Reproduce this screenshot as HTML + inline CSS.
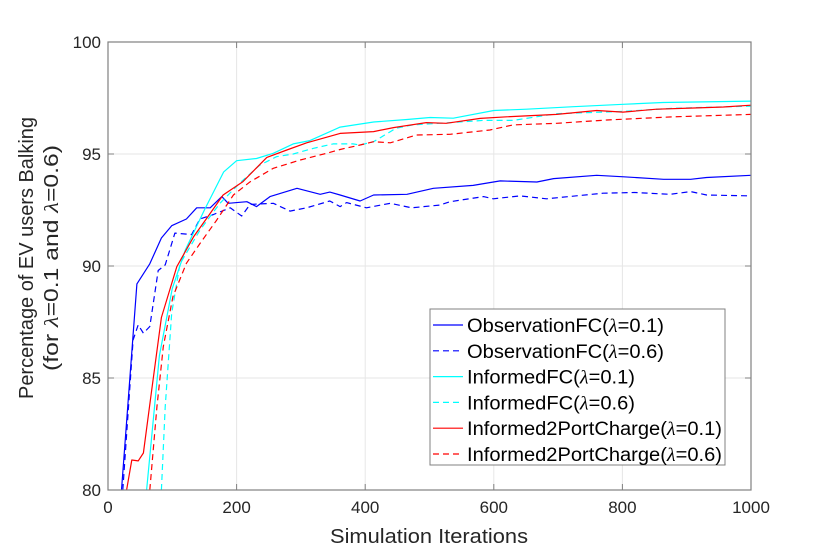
<!DOCTYPE html>
<html><head><meta charset="utf-8"><style>
body{margin:0;background:#fff;}
svg{display:block;font-family:"Liberation Sans",sans-serif;}
</style></head><body>
<svg id="chart" width="830" height="550"></svg>
<script>
const xTicks=[0,200,400,600,800,1000];
const yTicks=[80,85,90,95,100];
const obs01X=[21,45,65,83,99,122,138,159,177,187,216,231,252,294,330,345,361,392,413,465,506,568,610,667,693,760,802,864,906,931,1000];
const obs01Y=[80,89.2,90.1,91.25,91.8,92.1,92.6,92.6,93.1,92.8,92.87,92.65,93.1,93.47,93.2,93.3,93.17,92.9,93.17,93.2,93.47,93.6,93.8,93.75,93.9,94.05,93.98,93.87,93.87,93.95,94.05];
const obs06X=[23,39,47,55,65,78,89,104,130,143,164,190,208,221,257,283,309,345,361,371,402,439,472,516,532,584,599,641,682,770,819,874,906,931,1000];
const obs06Y=[80,86.7,87.37,87.0,87.3,89.8,90.05,91.47,91.4,92.1,92.3,92.6,92.23,92.75,92.8,92.45,92.6,92.9,92.65,92.83,92.6,92.8,92.6,92.72,92.87,93.1,93.0,93.13,93.0,93.25,93.28,93.2,93.32,93.17,93.13];
const inf01X=[60,80,100,120,150,180,200,231,257,288,314,361,413,465,501,537,600,651,724,801,863,1000];
const inf01Y=[80,86,89,90.7,92.5,94.2,94.7,94.8,95.03,95.45,95.6,96.2,96.43,96.54,96.63,96.6,96.94,97.0,97.11,97.22,97.3,97.36];
const inf06X=[83,89,99,112,143,174,205,236,262,288,319,350,381,392,413,448,474,532,584,630,698,801,879,1000];
const inf06Y=[80,83.7,87.9,90.1,91.6,92.8,93.7,94.5,94.88,95.0,95.25,95.45,95.45,95.4,95.55,96.15,96.3,96.4,96.5,96.5,96.8,96.9,97.04,97.14];
const i2p01X=[29,37,47,55,68,83,107,133,159,179,210,247,278,309,361,413,444,495,526,579,620,698,760,801,853,905,957,1000];
const i2p01Y=[80,81.34,81.3,81.65,84.46,87.7,89.97,91.3,92.35,93.17,93.77,94.85,95.18,95.5,95.92,96.0,96.18,96.4,96.37,96.59,96.66,96.77,96.94,96.87,97.0,97.05,97.1,97.18];
const i2p06X=[65,76,86,101,122,143,169,195,221,257,299,340,361,392,413,439,480,532,594,630,698,776,879,1000];
const i2p06Y=[80,83.7,86.4,88.63,90.12,91.0,92.05,93.17,93.76,94.36,94.73,95.03,95.2,95.4,95.55,95.5,95.85,95.88,96.07,96.3,96.37,96.52,96.66,96.77];

const L=108,R=751,T=42,B=490;
const sx=v=>L+(v-0)/(1000-0)*(R-L);
const sy=v=>B-(v-80)/(100-80)*(B-T);
const svg=document.getElementById('chart');
const NS='http://www.w3.org/2000/svg';
function mk(tag,attrs,parent){const e=document.createElementNS(NS,tag);for(const k in attrs)e.setAttribute(k,attrs[k]);(parent||svg).appendChild(e);return e;}

const bg=mk('rect',{x:L,y:T,width:R-L,height:B-T,fill:'#fff'});


xTicks.forEach(v=>{const g=mk('line',{x1:sx(v),x2:sx(v),y1:T,y2:B,stroke:'#e6e6e6','stroke-width':1});

});
yTicks.forEach(v=>{const g=mk('line',{x1:L,x2:R,y1:sy(v),y2:sy(v),stroke:'#e6e6e6','stroke-width':1});

});
const series=[
 [obs01X,obs01Y,'#0000ff',null,'observationfc-0.1-line'],
 [obs06X,obs06Y,'#0000ff','6,4','observationfc-0.6-line'],
 [inf01X,inf01Y,'#00ffff',null,'informedfc-0.1-line'],
 [inf06X,inf06Y,'#00ffff','6,4','informedfc-0.6-line'],
 [i2p06X,i2p06Y,'#ff0000','6,4','informed2portcharge-0.6-line'],
 [i2p01X,i2p01Y,'#ff0000',null,'informed2portcharge-0.1-line'],
];
const clip=mk('clipPath',{id:'pc'});mk('rect',{x:L,y:T,width:R-L,height:B-T},clip);
series.forEach(s=>{
 const d=s[0].map((x,i)=>(i?'L':'M')+sx(x).toFixed(1)+','+sy(s[1][i]).toFixed(1)).join(' ');
 const p=mk('path',{d:d,fill:'none',stroke:s[2],'stroke-width':1.2,'clip-path':'url(#pc)','stroke-linejoin':'round'});
 if(s[3])p.setAttribute('stroke-dasharray',s[3]);
 
 
});
const box=mk('rect',{x:L,y:T,width:R-L,height:B-T,fill:'none',stroke:'#808080','stroke-width':1.2});


xTicks.forEach(v=>{
 mk('line',{x1:sx(v),x2:sx(v),y1:B,y2:B-6,stroke:'#808080'});
 mk('line',{x1:sx(v),x2:sx(v),y1:T,y2:T+6,stroke:'#808080'});
 const t=mk('text',{x:sx(v),y:B+23,'text-anchor':'middle','font-size':17,fill:'#262626'});t.textContent=v;
 
 
});
yTicks.forEach(v=>{
 mk('line',{x1:L,x2:L+6,y1:sy(v),y2:sy(v),stroke:'#808080'});
 mk('line',{x1:R,x2:R-6,y1:sy(v),y2:sy(v),stroke:'#808080'});
 const t=mk('text',{x:L-7,y:sy(v)+6,'text-anchor':'end','font-size':17,fill:'#262626'});t.textContent=v;
 
 
});
const xt=mk('text',{x:429,y:543,'text-anchor':'middle','font-size':20,fill:'#262626',textLength:198,lengthAdjust:'spacingAndGlyphs'});xt.textContent='Simulation Iterations';


const yt=mk('text',{transform:'translate(33,258) rotate(-90)','text-anchor':'middle','font-size':20,fill:'#262626',textLength:282,lengthAdjust:'spacingAndGlyphs'});
yt.textContent='Percentage of EV users Balking';


const yt2=mk('text',{transform:'translate(58,258) rotate(-90)','text-anchor':'middle','font-size':20,fill:'#262626',textLength:226,lengthAdjust:'spacingAndGlyphs'});
yt2.innerHTML='(for <tspan font-family="Liberation Serif" font-style="italic">λ</tspan>=0.1 and <tspan font-family="Liberation Serif" font-style="italic">λ</tspan>=0.6)';


const lg=mk('g',{});


mk('rect',{x:430,y:309,width:295,height:156,fill:'#fff',stroke:'#808080','stroke-width':1},lg);
const labels=['ObservationFC(','ObservationFC(','InformedFC(','InformedFC(','Informed2PortCharge(','Informed2PortCharge('];
const lams=['0.1','0.6','0.1','0.6','0.1','0.6'];
const widths=[197,197,168,168,255,255];
const order=[0,1,2,3,5,4];
labels.forEach((lab,i)=>{
 const s=series[order[i]];const y=325+i*25.8;
 const e=mk('g',{},lg);
 
 
 const ln=mk('line',{x1:433,x2:463,y1:y,y2:y,stroke:s[2],'stroke-width':1.2},e);
 if(s[3])ln.setAttribute('stroke-dasharray',s[3]);
 const t=mk('text',{x:467,y:y+7,'font-size':19,fill:'#000',textLength:widths[i],lengthAdjust:'spacingAndGlyphs'},e);
 t.innerHTML=lab+'<tspan font-family="Liberation Serif" font-style="italic">λ</tspan>='+lams[i]+')';
});
</script>
</body></html>
